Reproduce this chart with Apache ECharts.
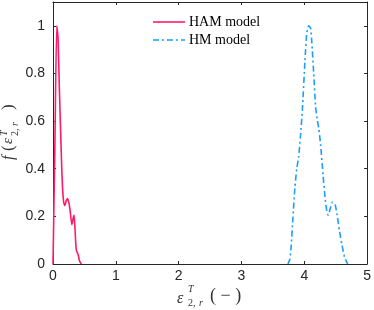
<!DOCTYPE html>
<html><head><meta charset="utf-8">
<script src="https://cdn.jsdelivr.net/npm/echarts@6/dist/echarts.min.js"></script>
<style>html,body{margin:0;padding:0;background:#fff}#c{width:374px;height:310px}</style>
</head><body><div id="c"></div>
<script>
const xTicks = [0, 1, 2, 3, 4, 5];
const yTicks = [0, 0.2, 0.4, 0.6, 0.8, 1];
const seriesNames = ['HAM model', 'HM model'];
const hamX = [0, 0.03, 0.06, 0.08, 0.10, 0.13, 0.15, 0.17, 0.19, 0.21, 0.23, 0.25, 0.27, 0.30, 0.32, 0.335, 0.35, 0.37, 0.40, 0.42, 0.45];
const hamY = [0, 0.5, 1.0, 0.95, 0.75, 0.48, 0.33, 0.26, 0.245, 0.265, 0.275, 0.26, 0.23, 0.165, 0.19, 0.205, 0.15, 0.06, 0.04, 0.015, 0];
const hmX = [3.74, 3.77, 3.79, 3.82, 3.85, 3.88, 3.91, 3.94, 3.97, 4.01, 4.04, 4.07, 4.10, 4.12, 4.15, 4.18, 4.21, 4.23, 4.26, 4.30, 4.33, 4.36, 4.38, 4.41, 4.45, 4.49, 4.52, 4.56, 4.60, 4.64, 4.69];
const hmY = [0, 0.02, 0.07, 0.2, 0.32, 0.4, 0.45, 0.54, 0.65, 0.85, 0.97, 1.0, 0.99, 0.93, 0.8, 0.66, 0.6, 0.57, 0.5, 0.37, 0.28, 0.22, 0.205, 0.23, 0.26, 0.25, 0.21, 0.14, 0.08, 0.03, 0];

const axisCol = '#262626';
const redCol = '#ff1a66', blueCol = '#1a9fff';
const serif = '"Liberation Serif", "DejaVu Serif", serif';
const sans = '"Liberation Sans", Arial, sans-serif';
const chart = echarts.init(document.getElementById('c'));
const baseX = {
  type: 'value', min: 0, max: 5, interval: 1,
  axisLine: { show: true, onZero: false, lineStyle: { color: axisCol, width: 1 } },
  axisTick: { show: true, inside: true, length: 3, lineStyle: { color: axisCol } },
  splitLine: { show: false }
};
const baseY = {
  type: 'value', min: 0, max: 1.1, interval: 0.2,
  axisLine: { show: true, onZero: false, lineStyle: { color: axisCol, width: 1 } },
  axisTick: { show: true, inside: true, length: 3, lineStyle: { color: axisCol } },
  splitLine: { show: false }
};
chart.setOption({
  animation: false,
  grid: { left: 53, right: 5, top: 2, bottom: 46 },
  xAxis: [
    Object.assign({}, baseX, { position: 'bottom',
      axisLabel: { color: axisCol, fontFamily: sans, fontSize: 14, margin: 5,
        formatter: v => xTicks.includes(v) ? String(v) : '' } }),
    Object.assign({}, baseX, { position: 'top', axisLabel: { show: false } })
  ],
  yAxis: [
    Object.assign({}, baseY, { position: 'left',
      axisLabel: { color: axisCol, fontFamily: sans, fontSize: 14, margin: 8,
        formatter: v => { const r = Math.round(v * 10) / 10; return yTicks.includes(r) ? String(r) : ''; } } }),
    Object.assign({}, baseY, { position: 'right', axisLabel: { show: false } })
  ],
  series: [
    { name: seriesNames[0], type: 'line', symbol: 'none', smooth: 0.2,
      lineStyle: { color: redCol, width: 1.6 }, itemStyle: { color: redCol },
      data: hamX.map((x, i) => [x, hamY[i]]) },
    { name: seriesNames[1], type: 'line', symbol: 'none', smooth: 0.2,
      lineStyle: { color: blueCol, width: 1.6, type: [6, 3, 2, 3] }, itemStyle: { color: blueCol },
      data: hmX.map((x, i) => [x, hmY[i]]) }
  ],
  graphic: [
    { type: 'line', shape: { x1: 153, y1: 22, x2: 185, y2: 22 }, style: { stroke: redCol, lineWidth: 1.6 } },
    { type: 'text', x: 189, y: 22, style: { text: seriesNames[0], font: '14px ' + serif, fill: '#000', verticalAlign: 'middle' } },
    { type: 'line', shape: { x1: 153, y1: 40, x2: 185, y2: 40 }, style: { stroke: blueCol, lineWidth: 1.6, lineDash: [6, 3, 2, 3] } },
    { type: 'text', x: 189, y: 40, style: { text: seriesNames[1], font: '14px ' + serif, fill: '#000', verticalAlign: 'middle' } },
    { type: 'group', x: 0, y: 0, children: [
      { type: 'text', x: 177, y: 291, style: { text: 'ε', font: 'italic 16px ' + serif, fill: '#333' } },
      { type: 'text', x: 188, y: 284, style: { text: 'T', font: 'italic 10px ' + serif, fill: '#333' } },
      { type: 'text', x: 188, y: 298, style: { text: '2,', font: '10px ' + serif, fill: '#333' } },
      { type: 'text', x: 199, y: 298, style: { text: 'r', font: 'italic 10px ' + serif, fill: '#333' } },
      { type: 'text', x: 210, y: 287, style: { text: '( − )', font: '18px ' + serif, fill: '#333' } }
    ]},
    { type: 'group', x: 1, y: 160, rotation: Math.PI / 2, children: [
      { type: 'text', x: 0, y: 0, style: { text: 'f', font: 'italic 16px ' + serif, fill: '#333' } },
      { type: 'text', x: 9, y: -1, style: { text: '(', font: '17px ' + serif, fill: '#333' } },
      { type: 'text', x: 16, y: 0, style: { text: 'ε', font: 'italic 15px ' + serif, fill: '#333' } },
      { type: 'text', x: 24, y: -2, style: { text: 'T', font: 'italic 10px ' + serif, fill: '#333' } },
      { type: 'text', x: 24, y: 9, style: { text: '2,', font: '10px ' + serif, fill: '#333' } },
      { type: 'text', x: 34, y: 9, style: { text: 'r', font: 'italic 10px ' + serif, fill: '#333' } },
      { type: 'text', x: 50, y: -1, style: { text: ')', font: '17px ' + serif, fill: '#333' } }
    ]}
  ]
});
</script></body></html>
